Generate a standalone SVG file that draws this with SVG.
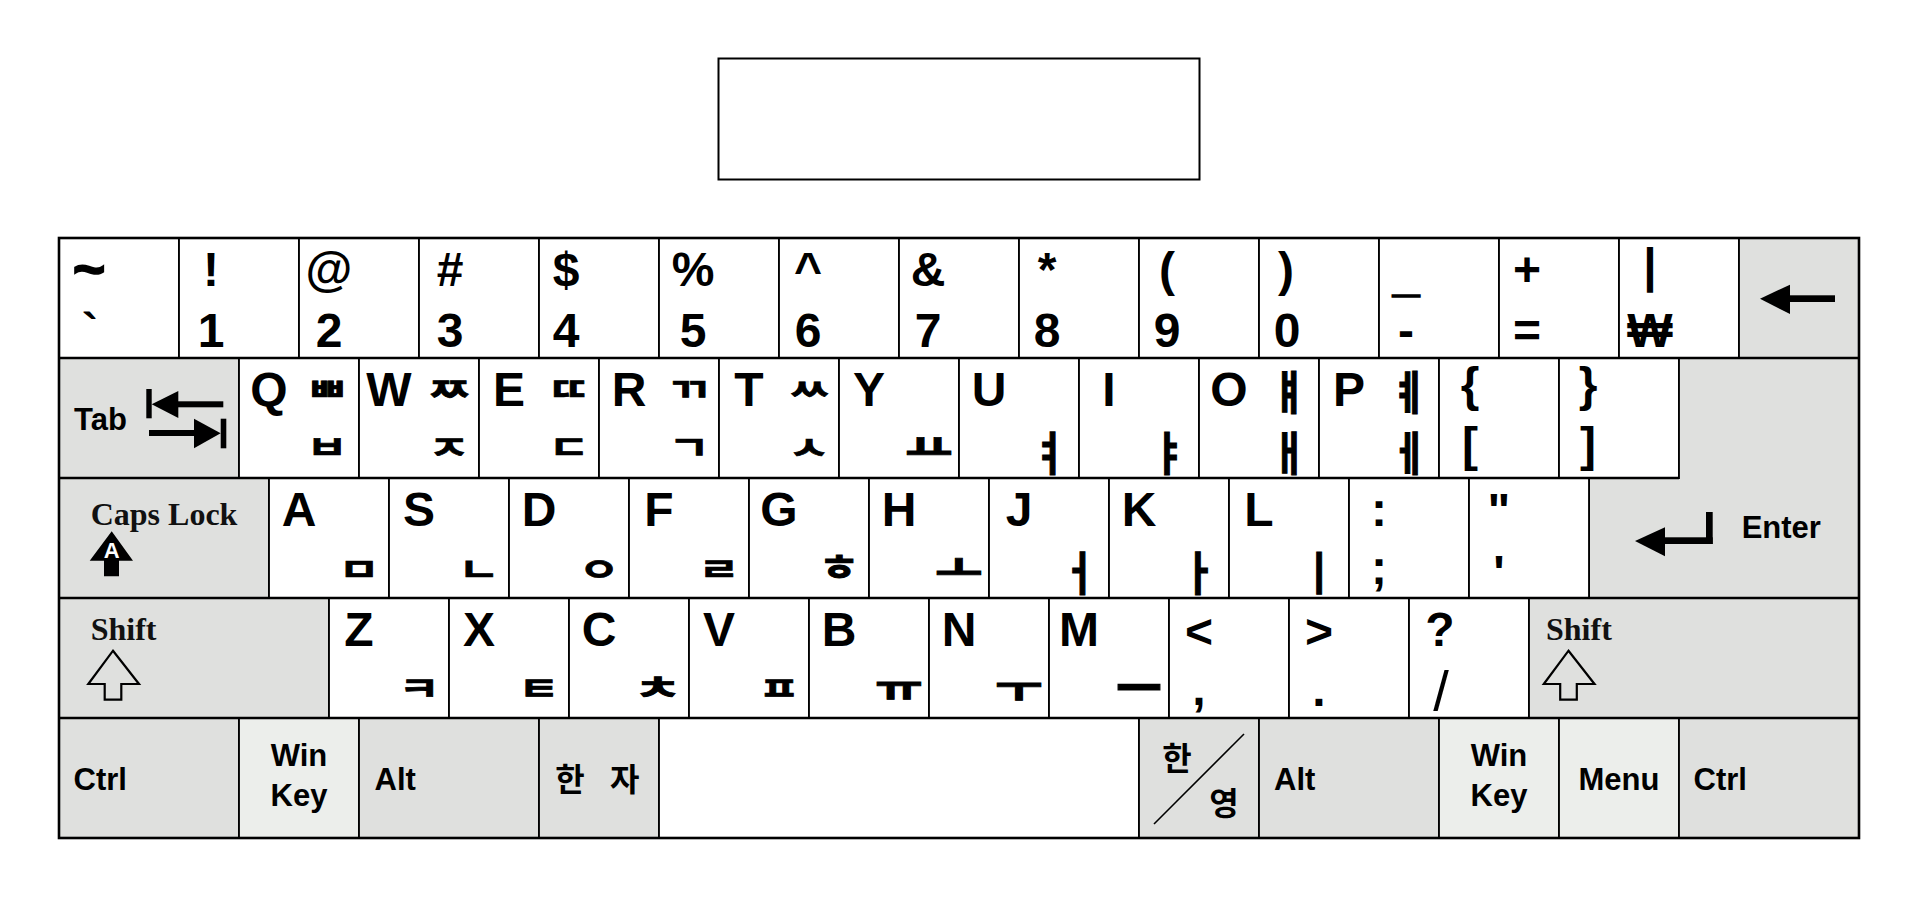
<svg xmlns="http://www.w3.org/2000/svg" width="1918" height="898" viewBox="0 0 1918 898">
<style>
.k{stroke:#000;stroke-width:1.8}
.w{fill:#fff}
.g{fill:#dfe0de}
.l{fill:#eceeeb}
.t{font-family:"Liberation Sans",Arial,sans-serif;font-weight:bold;font-size:48px;text-anchor:middle;fill:#000}
.s{font-family:"Liberation Sans",Arial,sans-serif;font-weight:bold;font-size:31px;fill:#000}
.m{text-anchor:middle}
.sf{font-family:"Liberation Serif","Times New Roman",serif;font-weight:bold;font-size:32px;fill:#111}
.j{font-family:"Noto Sans CJK KR",sans-serif;font-weight:bold;font-size:40px;text-anchor:middle;fill:#000;stroke:#000;stroke-width:0.9}
.h{font-family:"Noto Sans CJK KR",sans-serif;font-weight:bold;font-size:32px;fill:#000}
.ic{fill:#000}
.io{fill:none;stroke:#000;stroke-width:2.2;stroke-linejoin:miter}
.rl{stroke:#000;stroke-width:2.6;fill:none}
.th{stroke:#000;stroke-width:1.6}
</style>
<rect width="1918" height="898" fill="#fff"/>
<g id="display-box"><rect x="718.5" y="58.5" width="481" height="121" fill="#fff" stroke="#000" stroke-width="2"/></g>

<g id="row1">
<g id="key-tilde"><rect class="k w" x="59" y="238" width="120" height="120"/><text class="t th" x="89" y="288" style="font-size:56px">~</text><text class="t" x="90" y="347">`</text></g>
<g id="key-1"><rect class="k w" x="179" y="238" width="120" height="120"/><text class="t" x="211" y="286">!</text><text class="t" x="211" y="347">1</text></g>
<g id="key-2"><rect class="k w" x="299" y="238" width="120" height="120"/><text class="t" x="329" y="286">@</text><text class="t" x="329" y="347">2</text></g>
<g id="key-3"><rect class="k w" x="419" y="238" width="120" height="120"/><text class="t" x="450" y="286">#</text><text class="t" x="450" y="347">3</text></g>
<g id="key-4"><rect class="k w" x="539" y="238" width="120" height="120"/><text class="t" x="566" y="286">$</text><text class="t" x="566" y="347">4</text></g>
<g id="key-5"><rect class="k w" x="659" y="238" width="120" height="120"/><text class="t" x="693" y="286">%</text><text class="t" x="693" y="347">5</text></g>
<g id="key-6"><rect class="k w" x="779" y="238" width="120" height="120"/><text class="t" x="808" y="286">^</text><text class="t" x="808" y="347">6</text></g>
<g id="key-7"><rect class="k w" x="899" y="238" width="120" height="120"/><text class="t" x="928" y="286">&amp;</text><text class="t" x="928" y="347">7</text></g>
<g id="key-8"><rect class="k w" x="1019" y="238" width="120" height="120"/><text class="t" x="1047" y="286">*</text><text class="t" x="1047" y="347">8</text></g>
<g id="key-9"><rect class="k w" x="1139" y="238" width="120" height="120"/><text class="t" x="1167" y="286">(</text><text class="t" x="1167" y="347">9</text></g>
<g id="key-0"><rect class="k w" x="1259" y="238" width="120" height="120"/><text class="t" x="1286" y="286">)</text><text class="t" x="1287" y="347">0</text></g>
<g id="key-minus"><rect class="k w" x="1379" y="238" width="120" height="120"/><text class="t th" x="1406" y="291">_</text><text class="t" x="1406" y="347">-</text></g>
<g id="key-equal"><rect class="k w" x="1499" y="238" width="120" height="120"/><text class="t" x="1527" y="286">+</text><text class="t" x="1527" y="347">=</text></g>
<g id="key-won"><rect class="k w" x="1619" y="238" width="120" height="120"/><text class="t" x="1650" y="282">|</text><text class="t" x="1650" y="347">₩</text></g>
<g id="key-backspace"><rect class="k g" x="1739" y="238" width="120" height="120"/><polygon class="ic" points="1760,298.7 1790,284.7 1790,314"/><rect class="ic" x="1789" y="295.3" width="46" height="6.7"/></g>
</g>

<g id="row2">
<g id="key-tab"><rect class="k g" x="59" y="358" width="180" height="120"/><text class="s" x="74" y="430">Tab</text>
<rect class="ic" x="146.3" y="389" width="5.4" height="29.3"/><polygon class="ic" points="151.7,404.3 178.3,391 178.3,418"/><rect class="ic" x="177.5" y="401.3" width="45.8" height="6"/>
<rect class="ic" x="149" y="430" width="46" height="6"/><polygon class="ic" points="194,418.7 220.7,433.3 194,448.3"/><rect class="ic" x="220.7" y="418.7" width="5.6" height="29.6"/></g>
<g id="key-q"><rect class="k w" x="239" y="358" width="120" height="120"/><text class="t" x="269" y="406">Q</text><text class="j" transform="translate(327,401) scale(1.12,0.8)">ㅃ</text><text class="j" transform="translate(327,459) scale(1.12,0.8)">ㅂ</text></g>
<g id="key-w"><rect class="k w" x="359" y="358" width="120" height="120"/><text class="t" x="389" y="406">W</text><text class="j" transform="translate(449,401) scale(1.12,0.8)">ㅉ</text><text class="j" transform="translate(449,459) scale(1.12,0.8)">ㅈ</text></g>
<g id="key-e"><rect class="k w" x="479" y="358" width="120" height="120"/><text class="t" x="509" y="406">E</text><text class="j" transform="translate(569,401) scale(1.12,0.8)">ㄸ</text><text class="j" transform="translate(569,459) scale(1.12,0.8)">ㄷ</text></g>
<g id="key-r"><rect class="k w" x="599" y="358" width="120" height="120"/><text class="t" x="629" y="406">R</text><text class="j" transform="translate(689,401) scale(1.12,0.8)">ㄲ</text><text class="j" transform="translate(689,459) scale(1.12,0.8)">ㄱ</text></g>
<g id="key-t"><rect class="k w" x="719" y="358" width="120" height="120"/><text class="t" x="749" y="406">T</text><text class="j" transform="translate(809,401) scale(1.12,0.8)">ㅆ</text><text class="j" transform="translate(809,459) scale(1.12,0.8)">ㅅ</text></g>
<g id="key-y"><rect class="k w" x="839" y="358" width="120" height="120"/><text class="t" x="869" y="406">Y</text><text class="j" transform="translate(929,460) scale(1.3,0.88)">ㅛ</text></g>
<g id="key-u"><rect class="k w" x="959" y="358" width="120" height="120"/><text class="t" x="989" y="406">U</text><text class="j" transform="translate(1049,470) scale(0.95,1.15)">ㅕ</text></g>
<g id="key-i"><rect class="k w" x="1079" y="358" width="120" height="120"/><text class="t" x="1109" y="406">I</text><text class="j" transform="translate(1169,470) scale(0.95,1.15)">ㅑ</text></g>
<g id="key-o"><rect class="k w" x="1199" y="358" width="120" height="120"/><text class="t" x="1229" y="406">O</text><text class="j" transform="translate(1289,409) scale(0.95,1.15)">ㅒ</text><text class="j" transform="translate(1289,470) scale(0.95,1.15)">ㅐ</text></g>
<g id="key-p"><rect class="k w" x="1319" y="358" width="120" height="120"/><text class="t" x="1349" y="406">P</text><text class="j" transform="translate(1409,409) scale(0.95,1.15)">ㅖ</text><text class="j" transform="translate(1409,470) scale(0.95,1.15)">ㅔ</text></g>
<g id="key-lbrace"><rect class="k w" x="1439" y="358" width="120" height="120"/><text class="t" x="1470" y="401">{</text><text class="t" x="1470" y="461">[</text></g>
<g id="key-rbrace"><rect class="k w" x="1559" y="358" width="120" height="120"/><text class="t" x="1588" y="401">}</text><text class="t" x="1588" y="461">]</text></g>
</g>

<g id="key-enter"><path class="k g" d="M1679,358 H1859 V598 H1589 V478 H1679 Z"/><text class="s" x="1741.7" y="538">Enter</text>
<rect class="ic" x="1706" y="512" width="6.7" height="32"/><rect class="ic" x="1664" y="537.3" width="48.7" height="6.7"/><polygon class="ic" points="1635,541 1665,527.3 1665,556.3"/></g>

<g id="row3">
<g id="key-capslock"><rect class="k g" x="59" y="478" width="210" height="120"/><text class="sf" x="90.7" y="525">Caps Lock</text>
<polygon class="ic" points="111.7,531.3 133,560.7 119,560.7 119,576.3 104,576.3 104,560.7 89.7,560.7"/><text x="111.7" y="558" font-family="Liberation Sans, Arial, sans-serif" font-weight="bold" font-size="22" text-anchor="middle" fill="#fff">A</text></g>
<g id="key-a"><rect class="k w" x="269" y="478" width="120" height="120"/><text class="t" x="299" y="526">A</text><text class="j" transform="translate(359,581) scale(1.12,0.8)">ㅁ</text></g>
<g id="key-s"><rect class="k w" x="389" y="478" width="120" height="120"/><text class="t" x="419" y="526">S</text><text class="j" transform="translate(479,581) scale(1.12,0.8)">ㄴ</text></g>
<g id="key-d"><rect class="k w" x="509" y="478" width="120" height="120"/><text class="t" x="539" y="526">D</text><text class="j" transform="translate(599,581) scale(1.12,0.8)">ㅇ</text></g>
<g id="key-f"><rect class="k w" x="629" y="478" width="120" height="120"/><text class="t" x="659" y="526">F</text><text class="j" transform="translate(719,581) scale(1.12,0.8)">ㄹ</text></g>
<g id="key-g"><rect class="k w" x="749" y="478" width="120" height="120"/><text class="t" x="779" y="526">G</text><text class="j" transform="translate(839,581) scale(1.12,0.9)">ㅎ</text></g>
<g id="key-h"><rect class="k w" x="869" y="478" width="120" height="120"/><text class="t" x="899" y="526">H</text><text class="j" transform="translate(959,581) scale(1.3,0.88)">ㅗ</text></g>
<g id="key-j"><rect class="k w" x="989" y="478" width="120" height="120"/><text class="t" x="1019" y="526">J</text><text class="j" transform="translate(1079,590) scale(0.95,1.15)">ㅓ</text></g>
<g id="key-k"><rect class="k w" x="1109" y="478" width="120" height="120"/><text class="t" x="1139" y="526">K</text><text class="j" transform="translate(1199,590) scale(0.95,1.15)">ㅏ</text></g>
<g id="key-l"><rect class="k w" x="1229" y="478" width="120" height="120"/><text class="t" x="1259" y="526">L</text><text class="j" transform="translate(1319,590) scale(0.95,1.15)">ㅣ</text></g>
<g id="key-semicolon"><rect class="k w" x="1349" y="478" width="120" height="120"/><text class="t" x="1379" y="526">:</text><text class="t" x="1379" y="584">;</text></g>
<g id="key-quote"><rect class="k w" x="1469" y="478" width="120" height="120"/><text class="t" x="1499" y="527">"</text><text class="t" x="1499" y="589">'</text></g>
</g>

<g id="row4">
<g id="key-lshift"><rect class="k g" x="59" y="598" width="270" height="120"/><text class="sf" x="90.7" y="640">Shift</text><path class="io" d="M113,650.7 L139,684 H121.3 V699.7 H104.7 V684 H88.3 Z"/></g>
<g id="key-z"><rect class="k w" x="329" y="598" width="120" height="120"/><text class="t" x="359" y="646">Z</text><text class="j" transform="translate(419,700) scale(1.12,0.8)">ㅋ</text></g>
<g id="key-x"><rect class="k w" x="449" y="598" width="120" height="120"/><text class="t" x="479" y="646">X</text><text class="j" transform="translate(539,700) scale(1.12,0.8)">ㅌ</text></g>
<g id="key-c"><rect class="k w" x="569" y="598" width="120" height="120"/><text class="t" x="599" y="646">C</text><text class="j" transform="translate(658,700) scale(1.3,0.82)">ㅊ</text></g>
<g id="key-v"><rect class="k w" x="689" y="598" width="120" height="120"/><text class="t" x="719" y="646">V</text><text class="j" transform="translate(779,700) scale(1.12,0.8)">ㅍ</text></g>
<g id="key-b"><rect class="k w" x="809" y="598" width="120" height="120"/><text class="t" x="839" y="646">B</text><text class="j" transform="translate(899,701) scale(1.3,0.88)">ㅠ</text></g>
<g id="key-n"><rect class="k w" x="929" y="598" width="120" height="120"/><text class="t" x="959" y="646">N</text><text class="j" transform="translate(1019,702) scale(1.3,0.88)">ㅜ</text></g>
<g id="key-m"><rect class="k w" x="1049" y="598" width="120" height="120"/><text class="t" x="1079" y="646">M</text><text class="j" transform="translate(1139,708) scale(1.25,1.3)">ㅡ</text></g>
<g id="key-comma"><rect class="k w" x="1169" y="598" width="120" height="120"/><text class="t" x="1199" y="648">&lt;</text><text class="t" x="1199" y="705">,</text></g>
<g id="key-period"><rect class="k w" x="1289" y="598" width="120" height="120"/><text class="t" x="1319" y="648">&gt;</text><text class="t" x="1319" y="706">.</text></g>
<g id="key-slash"><rect class="k w" x="1409" y="598" width="120" height="120"/><text class="t" x="1440" y="646">?</text><text class="t" x="1441" y="710" style="font-weight:normal;font-size:56px">/</text></g>
<g id="key-rshift"><rect class="k g" x="1529" y="598" width="330" height="120"/><text class="sf" x="1546" y="640">Shift</text><path class="io" d="M1568.5,650.7 L1594.5,684 H1576.8 V699.7 H1560.2 V684 H1543.8 Z"/></g>
</g>

<g id="row5">
<g id="key-lctrl"><rect class="k g" x="59" y="718" width="180" height="120"/><text class="s" x="73.5" y="790">Ctrl</text></g>
<g id="key-lwin"><rect class="k l" x="239" y="718" width="120" height="120"/><text class="s m" x="299" y="766">Win</text><text class="s m" x="299" y="806">Key</text></g>
<g id="key-lalt"><rect class="k g" x="359" y="718" width="180" height="120"/><text class="s" x="374.5" y="790">Alt</text></g>
<g id="key-hanja"><rect class="k g" x="539" y="718" width="120" height="120"/><text class="h" x="555.2 587 609.9" y="791">한 자</text></g>
<g id="key-space"><rect class="k w" x="659" y="718" width="480" height="120"/></g>
<g id="key-hanyeong"><rect class="k g" x="1139" y="718" width="120" height="120"/><text class="h m" x="1177" y="770">한</text><text class="h m" x="1224" y="815">영</text><line x1="1154" y1="824" x2="1244" y2="734" stroke="#000" stroke-width="1.6"/></g>
<g id="key-ralt"><rect class="k g" x="1259" y="718" width="180" height="120"/><text class="s" x="1274" y="790">Alt</text></g>
<g id="key-rwin"><rect class="k l" x="1439" y="718" width="120" height="120"/><text class="s m" x="1499" y="766">Win</text><text class="s m" x="1499" y="806">Key</text></g>
<g id="key-menu"><rect class="k l" x="1559" y="718" width="120" height="120"/><text class="s m" x="1619" y="790">Menu</text></g>
<g id="key-rctrl"><rect class="k g" x="1679" y="718" width="180" height="120"/><text class="s" x="1693.5" y="790">Ctrl</text></g>
</g>

<g id="row-lines">
<path class="rl" d="M59,358 H1859 M59,478 H1679 M59,598 H1859 M59,718 H1859"/>
<rect class="rl" x="59" y="238" width="1800" height="600" stroke-width="3"/>
</g>
</svg>
